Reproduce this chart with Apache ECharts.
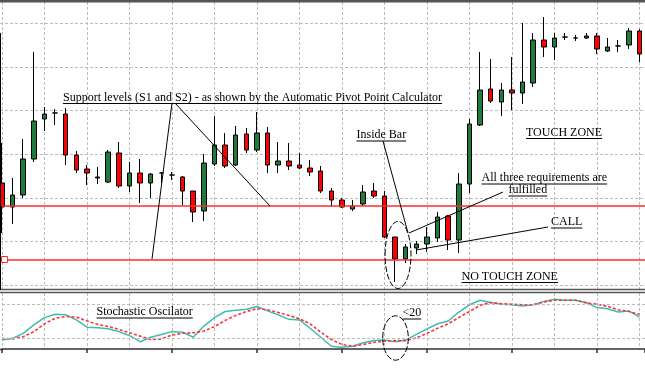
<!DOCTYPE html>
<html><head><meta charset="utf-8">
<script src="https://cdn.jsdelivr.net/npm/echarts@6/dist/echarts.min.js"></script>
<style>html,body{margin:0;padding:0;background:#fff}#c{width:645px;height:381px}</style>
</head><body><div id="c"></div>
<script>
// Candle values (price units, arbitrary scale)
const opens  = [106,82,94,130,170,176,175,134,120,112,107,136,103,116,106,116,114,112,98,78,125,144,124,155,139,156,124,128,124,121,118,98,89,80,85,98,93,52,30,41,45,51,73,49,105,164,200,187,199,196,206,249,242,252,251,251,253,238,243,244,258];
const closes = [82,94,130,168,175,176,134,119,116,111,137,103,116,106,115,116,114,98,77,126,144,123,154,139,156,124,128,123,121,117,98,89,82,83,97,93,52,30,42,45,52,72,49,105,165,199,188,199,196,207,249,242,251,252,251,253,240,242,243,258,235];
const lows   = [56,65,91,127,158,164,124,116,104,105,106,101,97,86,91,106,109,84,67,68,123,121,123,136,137,116,116,119,120,113,96,82,81,78,83,91,51,7,26,35,37,47,39,36,96,163,186,173,179,185,202,232,229,249,248,250,235,237,237,240,227];
const highs  = [146,111,150,237,182,180,181,138,124,122,139,147,127,130,116,117,117,113,98,135,173,156,163,161,177,162,147,146,136,129,123,101,91,89,104,106,98,52,45,48,62,77,74,116,170,237,230,206,232,266,256,272,256,256,254,256,256,251,249,261,260];
const supportLevels = [83.3, 29.5];          // S1, S2
// Stochastic oscillator
const stochK = [16,19,28,43,56,62,61,52,39,38,36,31,24,13,21,26,31,30,21,41,56,67,69,71,76,68,61,53,52,37,21,5,3,5,11,15,16,13,16,26,36,45,50,66,79,87,83,80,79,77,79,85,89,87,87,83,74,72,66,68,57];
const stochD = [19,18,22,31,45,55,58,57,50,44,40,35,29,23,17,18,25,28,29,32,40,51,60,67,72,70,65,60,54,45,30,17,8,5,8,12,14,15,15,20,28,37,45,56,67,78,83,81,80,79,79,84,87,87,87,82,80,76,70,67,62];
const stochLevels = [20, 80];

const candles = opens.map((o, i) => [i, o, closes[i], lows[i], highs[i]]);
const kData = stochK.map((v, i) => [i, v]);
const dData = stochD.map((v, i) => [i, v]);

const XMAX = 60.518;
const gridDash = {show: true, lineStyle: {color: '#bcbcbc', width: 1, type: [3, 2]}};
const off = {axisLine: {show: false}, axisTick: {show: false}, axisLabel: {show: false}};

// annotation layout (pixels)
const FONT = '12px "Liberation Serif"';
const notes = [
  {t: 'Support levels (S1 and S2) - as shown by the Automatic Pivot Point Calculator', x: 63, ul: 103},
  {t: 'Inside Bar', x: 356.5, ul: 140.5},
  {t: 'TOUCH ZONE', x: 526, ul: 138},
  {t: 'All three requirements are', x: 481.5, ul: 183.5},
  {t: 'fulfilled', x: 508.5, ul: 195.5},
  {t: 'CALL', x: 551, ul: 227.5},
  {t: 'NO TOUCH ZONE', x: 461.5, ul: 282},
  {t: 'Stochastic Oscilator', x: 96.5, ul: 317.5},
  {t: '<20', x: 402.5, ul: 318.5}
];
const pointers = [
  [172, 103, 152, 259], [175, 103, 270, 206],
  [383, 141, 408, 233], [503, 192, 409, 233], [548, 227, 416, 250]
];
const ctx = document.createElement('canvas').getContext('2d');
ctx.font = FONT;

const graphics = [];
// panel frames
graphics.push({type: 'rect', z: 50, silent: true, shape: {x: 0, y: 0, width: 645, height: 2.5}, style: {fill: '#555'}});
graphics.push({type: 'line', z: 50, silent: true, shape: {x1: 0, y1: 289.5, x2: 645, y2: 289.5}, style: {stroke: '#555', lineWidth: 1.5}});
graphics.push({type: 'line', z: 50, silent: true, shape: {x1: 0, y1: 292.5, x2: 645, y2: 292.5}, style: {stroke: '#555', lineWidth: 1.5}});
graphics.push({type: 'line', z: 50, silent: true, shape: {x1: 0, y1: 349.5, x2: 3, y2: 349.5}, style: {stroke: '#333', lineWidth: 1.5}});
graphics.push({type: 'line', z: 50, silent: true, shape: {x1: 0.5, y1: 33, x2: 0.5, y2: 290}, style: {stroke: '#000', lineWidth: 1}});
notes.forEach(n => {
  const w = ctx.measureText(n.t).width;
  graphics.push({type: 'text', z: 100, silent: true, x: n.x, y: n.ul - 11.5,
    style: {text: n.t, font: FONT, fill: '#000', textVerticalAlign: 'top', verticalAlign: 'top'}});
  graphics.push({type: 'line', z: 100, silent: true, shape: {x1: n.x, y1: n.ul + 0.5, x2: n.x + w, y2: n.ul + 0.5}, style: {stroke: '#000', lineWidth: 1}});
});
pointers.forEach(p => graphics.push({type: 'line', z: 100, silent: true, shape: {x1: p[0], y1: p[1], x2: p[2], y2: p[3]}, style: {stroke: '#000', lineWidth: 1}}));
graphics.push({type: 'ellipse', z: 100, silent: true, shape: {cx: 398, cy: 255, rx: 13, ry: 33.5}, style: {fill: 'none', stroke: '#000', lineWidth: 1, lineDash: [6, 2]}});
graphics.push({type: 'ellipse', z: 100, silent: true, shape: {cx: 395.5, cy: 338, rx: 12.8, ry: 22.2}, style: {fill: 'none', stroke: '#000', lineWidth: 1, lineDash: [6, 2]}});

const chart = echarts.init(document.getElementById('c'), null, {renderer: 'canvas'});
chart.setOption({
  animation: false,
  backgroundColor: '#fff',
  grid: [
    {left: 2, right: 0, top: 2, height: 287},
    {left: 2, right: 0, top: 293, height: 56},
    {left: 0, right: 0, top: 23.4, bottom: 96}
  ],
  xAxis: [
    Object.assign({type: 'value', gridIndex: 0, min: 0, max: XMAX, interval: 4, splitLine: gridDash}, off),
    Object.assign({type: 'value', gridIndex: 1, min: 0, max: XMAX, interval: 4, position: 'top', splitLine: gridDash}, off),
    {type: 'value', gridIndex: 1, min: 0, max: XMAX, interval: 8, position: 'bottom',
     axisLine: {show: true, onZero: false, lineStyle: {color: '#333', width: 1.5}},
     axisTick: {show: true, inside: false, length: 4, lineStyle: {color: '#333', width: 1.5}},
     axisLabel: {show: false}, splitLine: {show: false}},
    {type: 'value', gridIndex: 2, min: 0, max: 1, show: false}
  ],
  yAxis: [
    Object.assign({type: 'value', gridIndex: 0, min: 0, max: 287, splitLine: {show: false}}, off),
    Object.assign({type: 'value', gridIndex: 1, min: 0, max: 100, splitLine: {show: false}}, off),
    Object.assign({type: 'value', gridIndex: 2, min: 0, max: 6, interval: 1, splitLine: gridDash}, off)
  ],
  graphic: {elements: graphics},
  series: [
    {
      type: 'candlestick', xAxisIndex: 0, yAxisIndex: 0, data: candles, barWidth: 5, clip: false,
      itemStyle: {color: '#1f7a3b', color0: '#ff0000', borderColor: '#000', borderColor0: '#000', borderWidth: 1},
      markLine: {silent: true, symbol: 'none', label: {show: false},
        lineStyle: {color: '#ff2b2b', width: 1.5, type: 'solid'},
        data: supportLevels.map(v => ({yAxis: v}))},
      markPoint: {silent: true, symbol: 'rect', symbolSize: 6, label: {show: false},
        itemStyle: {color: '#fff', borderColor: '#ff2b2b', borderWidth: 1},
        data: [{coord: [0.24, supportLevels[1]]}]}
    },
    {
      type: 'line', xAxisIndex: 1, yAxisIndex: 1, data: kData, symbol: 'none',
      lineStyle: {color: '#3dbcb2', width: 1.5},
      markLine: {silent: true, symbol: 'none', label: {show: false},
        lineStyle: {color: '#bcbcbc', width: 1, type: [3, 2]},
        data: stochLevels.map(v => ({yAxis: v}))}
    },
    {
      type: 'line', xAxisIndex: 1, yAxisIndex: 1, data: dData, symbol: 'none',
      lineStyle: {color: '#ff3333', width: 1.6, type: [3, 2]}
    }
  ]
});
</script>
</body></html>
